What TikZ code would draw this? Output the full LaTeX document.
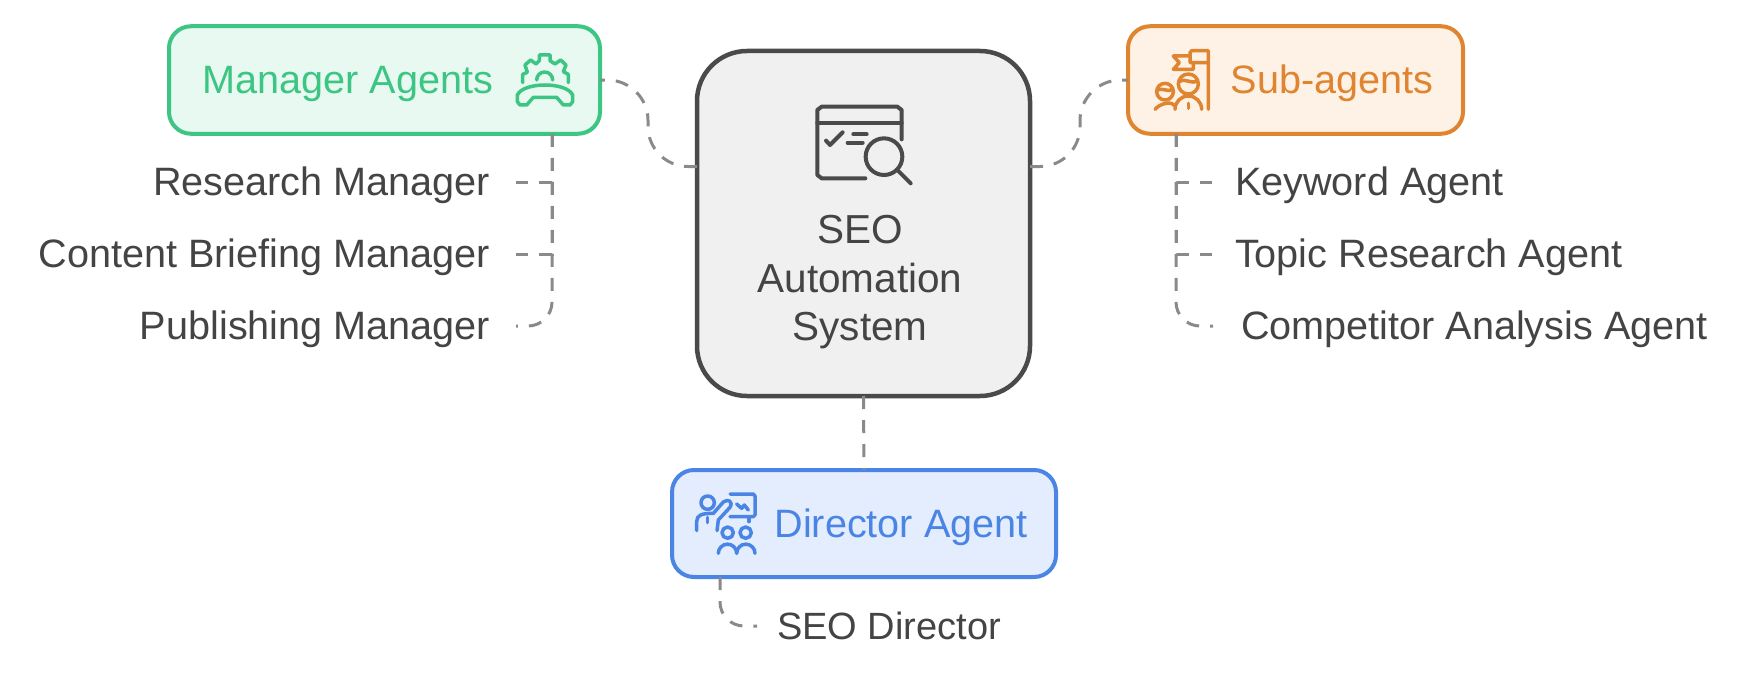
\documentclass[tikz,border=0pt]{standalone}
\usepackage{fontspec}
\setmainfont{Liberation Sans}
\usepackage{xcolor}
\usepackage{tikz}
\usetikzlibrary{calc}
\definecolor{mgrGreen}{HTML}{3CC583}
\definecolor{mgrBg}{HTML}{E8F9F1}
\definecolor{subOrange}{HTML}{DF842F}
\definecolor{subBg}{HTML}{FEF1E6}
\definecolor{dirBlue}{HTML}{4A85E6}
\definecolor{dirBg}{HTML}{E3EDFD}
\definecolor{sysGrey}{HTML}{4A4A4A}
\definecolor{sysBg}{HTML}{F0F0F0}
\definecolor{linkGrey}{HTML}{8A8A8A}
\definecolor{textGrey}{HTML}{444444}

\begin{document}
\begin{tikzpicture}[x=1pt,y=-1pt,
 agentbox/.style={rectangle,rounded corners=22pt,draw,line width=4pt,inner sep=0pt,outer sep=0pt},
 sysbox/.style={rectangle,rounded corners=50pt,draw=sysGrey,fill=sysBg,line width=4.5pt,inner sep=0pt,outer sep=0pt,
 minimum width=333pt,minimum height=345pt},
 boxlabel/.style={anchor=base,inner sep=0pt,font=\fontsize{39.6}{44}\selectfont},
 leaf/.style={inner ysep=0pt,outer sep=0pt,text=textGrey,text height=27pt,text depth=1pt,
 font=\fontsize{39.6}{44}\selectfont},
 link/.style={draw=linkGrey,line width=3pt,dash pattern=on 13pt off 11pt},
 icon/.style={line width=3.5pt,line cap=round,line join=round}]
\useasboundingbox (0,0) rectangle (1752,674);
\node[agentbox,draw=mgrGreen,fill=mgrBg,minimum width=431pt,minimum height=107.5pt] (manager) at (384.5,80) {};
\node[agentbox,draw=subOrange,fill=subBg,minimum width=335pt,minimum height=107.5pt] (subagents) at (1295.5,80) {};
\node[agentbox,draw=dirBlue,fill=dirBg,minimum width=384pt,minimum height=107pt] (director) at (864,523.5) {};
\node[sysbox] (system) at (859+4.5,223.5) {};
\node[boxlabel,text=mgrGreen] (managerLabel) at (348,94) {Manager Agents};
\node[boxlabel,text=subOrange] (subagentsLabel) at (1332,94) {Sub-agents};
\node[boxlabel,text=dirBlue] (directorLabel) at (901,537.5) {Director Agent};
\node[inner sep=0pt,align=center,text=textGrey,font=\fontsize{40.5}{48.5}\selectfont] (systemLabel) at (860,282.5) {SEO\\Automation\\System};
\node[leaf,anchor=east,inner xsep=26pt] (research) at (516,182) {Research Manager};
\node[leaf,anchor=east,inner xsep=26pt] (briefing) at (516,254) {Content Briefing Manager};
\node[leaf,anchor=east,inner xsep=26pt] (publishing) at (516,326) {Publishing Manager};
\node[leaf,anchor=west,inner xsep=23pt] (keyword) at (1212,182) {Keyword Agent};
\node[leaf,anchor=west,inner xsep=23pt] (topic) at (1212,254) {Topic Research Agent};
\node[leaf,anchor=west,inner xsep=28pt] (competitor) at (1213,326) {Competitor Analysis Agent};
\node[leaf,anchor=west,inner xsep=20pt,font=\fontsize{38}{44}\selectfont] (seodirector) at (757,626) {SEO Director};
% links
\draw[link,rounded corners=40pt] ([yshift=57pt]system.west) -- ++(-49,0) -- ++(0,-86) -- (manager.east);
\draw[link,rounded corners=40pt] ([yshift=57pt]system.east) -- ++(50,0) -- ++(0,-86) -- (subagents.west);
\draw[link] (system.south) -- (director.north);
\draw[link] ([xshift=167.5pt]manager.south) |- (research.east);
\draw[link] ([xshift=167.5pt]manager.south) |- (briefing.east);
\draw[link,rounded corners=24pt] ([xshift=167.5pt]manager.south) |- (publishing.east);
\draw[link] ([xshift=-119.5pt]subagents.south) |- (keyword.west);
\draw[link] ([xshift=-119.5pt]subagents.south) |- (topic.west);
\draw[link,rounded corners=24pt] ([xshift=-119.5pt]subagents.south) |- (competitor.west);
\draw[link,rounded corners=24pt] ([xshift=-144pt]director.south) |- (seodirector.west);
% gear and handset
\begin{scope}[shift={(500,40)},x=0.3333pt,y=-0.3333pt,icon,draw=mgrGreen]
\draw (68,128) -- (68,103) -- (82,97) -- (75,75) -- (92,60) -- (108,72) -- (118,62) -- (118,45) -- (150,45) -- (150,62) -- (165,72) -- (182,60) -- (198,75) -- (190,95) -- (205,103) -- (205,128);
\draw (110,120) arc[start angle=180,end angle=360,radius=24];
\draw (52,165) .. controls (70,125) and (200,125) .. (218,165) -- (218,185) -- (210,195) -- (190,195) -- (170,172) -- (100,172) -- (80,195) -- (60,195) -- (52,185) -- cycle;
\end{scope}
% flag and people
\begin{scope}[shift={(1140,40)},x=0.3333pt,y=-0.3333pt,icon,draw=subOrange]
\draw (205,208) -- (205,32) -- (155,32) -- (150,38) -- (150,68) -- (205,68);
\draw (150,48) -- (100,48) -- (118,68) -- (100,88) -- (160,88) -- (160,68);
\draw (145,132) circle[radius=30];
\draw (118,125) .. controls (135,112) and (155,135) .. (172,122);
\draw (105,208) arc[start angle=180,end angle=360,radius=40];
\draw (145,190) -- (145,205);
\draw (75,155) circle[radius=25];
\draw (52,150) .. controls (65,142) and (85,158) .. (98,148);
\draw (45,208) .. controls (55,195) and (90,180) .. (102,196);
\end{scope}
% teacher at board
\begin{scope}[shift={(685,480)},x=0.3333pt,y=-0.3333pt,icon,draw=dirBlue]
\draw (68,68) circle[radius=20];
\draw (35,152) -- (35,125) .. controls (35,105) and (50,100) .. (85,100) -- (115,66) .. controls (130,55) and (145,65) .. (135,82) -- (100,120) -- (96,152);
\draw (68,112) -- (68,128);
\draw (135,42) -- (205,42) -- (210,48) -- (210,105) -- (205,110) -- (135,110);
\draw (155,72) -- (170,85) -- (178,75) -- (190,90);
\draw (192,112) -- (192,125);
\draw (128,158) circle[radius=17];
\draw (182,158) circle[radius=17];
\draw (100,220) arc[start angle=180,end angle=360,radius=27.5];
\draw (155,220) arc[start angle=180,end angle=360,radius=27.5];
\end{scope}
% window and magnifier
\begin{scope}[shift={(780,90)},x=0.3333pt,y=-0.3333pt,icon,line width=4pt,draw=sysGrey]
\draw (256,265) -- (125,265) -- (112,255) -- (112,60) -- (125,50) -- (352,50) -- (365,60) -- (365,148);
\draw (112,98) -- (365,98);
\draw (138,152) -- (150,165) -- (188,127);
\draw (220,133) -- (260,133);
\draw (203,158) -- (248,158);
\draw (312,200) circle[radius=55];
\draw (355,243) -- (392,280);
\end{scope}
\end{tikzpicture}
\end{document}
